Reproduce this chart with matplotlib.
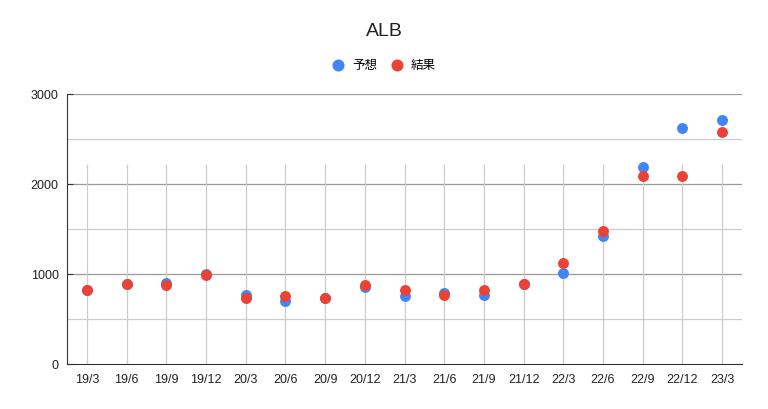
import numpy as np
import matplotlib.pyplot as plt

plt.rcParams['font.family'] = ['Liberation Sans', 'Noto Sans CJK JP', 'DejaVu Sans']

quarters = ["19/3", "19/6", "19/9", "19/12", "20/3", "20/6", "20/9", "20/12",
            "21/3", "21/6", "21/9", "21/12", "22/3", "22/6", "22/9", "22/12", "23/3"]
forecast = [826, 885, 896, 996, 763, 704, 732, 852,
            752, 785, 763, 889, 1015, 1422, 2193, 2622, 2711]
actual = [826, 885, 877, 989, 737, 759, 737, 877,
          826, 767, 826, 889, 1126, 1474, 2093, 2093, 2574]

x = np.arange(len(quarters))

fig = plt.figure(figsize=(7.68, 4.09), dpi=100)
ax = fig.add_axes([0.0872, 0.110, 0.879, 0.660])

# grid
for v in [500, 1500, 2500]:
    ax.axhline(v, color="#cccccc", lw=0.9, zorder=0)
for v in [1000, 2000, 3000]:
    ax.axhline(v, color="#999999", lw=0.9, zorder=0)
ax.vlines(x, 0, 2220, color="#cccccc", lw=0.9, zorder=0)

ax.scatter(x, forecast, s=62, color="#4285F4", label="予想", zorder=3, linewidths=0)
ax.scatter(x, actual, s=62, color="#EA4335", label="結果", zorder=4, linewidths=0)

ax.set_xlim(-0.5, len(quarters) - 0.5)
ax.set_ylim(0, 3000)
ax.set_yticks([0, 1000, 2000, 3000])
ax.set_xticks(x)
ax.set_xticklabels(quarters)
ax.tick_params(axis="both", labelsize=9, colors="#222222")
ax.tick_params(axis="y", direction="in", length=4, color="#333333", pad=6)
ax.tick_params(axis="x", length=0, pad=7)

for s in ["top", "right"]:
    ax.spines[s].set_visible(False)
ax.spines["left"].set_color("#333333")
ax.spines["bottom"].set_color("#333333")

fig.text(0.5, 0.922, "ALB", ha="center", va="center", fontsize=14, color="#222222")
fig.legend(loc="center", bbox_to_anchor=(0.5, 0.841), ncol=2, frameon=False,
           handlelength=1.0, handletextpad=0.6, columnspacing=1.1, markerscale=1.1,
           prop={"family": ["Noto Sans CJK JP", "DejaVu Sans"], "size": 9})

fig.savefig("out.png", dpi=100)
